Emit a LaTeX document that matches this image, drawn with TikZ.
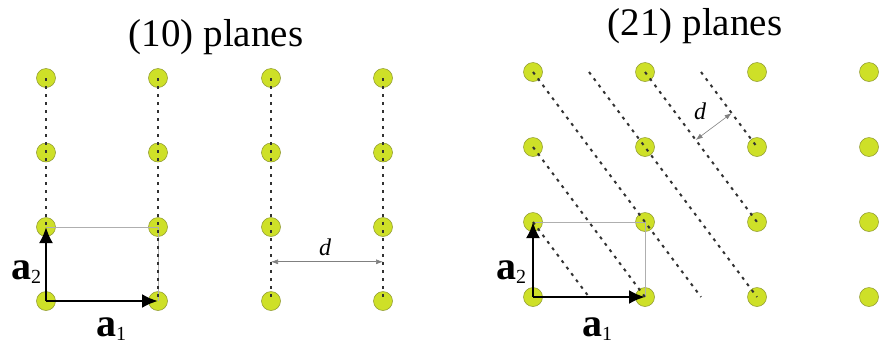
\documentclass[tikz,border=0pt]{standalone}
\usepackage{fontspec}
\setmainfont{Liberation Serif}
\usetikzlibrary{
  arrows.meta,
  calc
}
\definecolor{atomfill}{RGB}{206,224,40}
\definecolor{atomedge}{RGB}{140,150,45}
\definecolor{planegray}{RGB}{50,50,50}
\definecolor{cellgray}{RGB}{175,175,175}
\newcommand{\latvec}[1]{\textbf{a}\raisebox{-4pt}{\fontsize{20}{20}\selectfont #1}}
\tikzset{
  atom/.style={
    circle,
    draw=atomedge,
    line width=0.5pt,
    fill=atomfill,
    minimum size=19pt,
    inner sep=0pt
  },
  plane/.style={
    draw=planegray,
    line width=2pt,
    dash pattern=on 3pt off 5pt
  },
  cell/.style={
    draw=cellgray,
    line width=0.7pt
  },
  basis/.style={
    -{Latex[length=16pt,width=14pt]},
    line width=2.5pt,
    draw=black
  },
  spacing/.style={
    {Latex[length=7pt,width=5pt]}-{Latex[length=7pt,width=5pt]},
    line width=0.6pt,
    draw=gray
  },
  title/.style={
    font=\fontsize{39}{40}\selectfont,
    anchor=base
  },
  veclabel/.style={
    font=\fontsize{40}{40}\selectfont,
    anchor=base west,
    inner sep=0pt
  },
  dlabel/.style={
    font=\fontsize{24}{24}\selectfont\itshape,
    inner sep=0pt
  }
}

\begin{document}
\begin{tikzpicture}[x=1pt,y=-1pt]
\useasboundingbox (0,0) rectangle (879,349);

% Titles.
\node[title] (title10) at (216,46) {(10) planes};
\node[title] (title21) at (695,35) {(21) planes};

% Lattice points.
\foreach \c/\x in {1/46,2/158,3/271,4/383}
  \foreach \r/\y in {1/78,2/152.5,3/227,4/301}
    \node[atom] (p\c\r) at (\x,\y) {};
\foreach \c/\x in {1/533,2/645,3/757,4/869}
  \foreach \r/\y in {1/72,2/147,3/222,4/297}
    \node[atom] (q\c\r) at (\x,\y) {};

% Unit cells.
\draw[cell] (p13.center) -- (p23.center) -- (p24.center);
\draw[cell] (q13.center) -- (q23.center) -- (q24.center);

% (10) planes.
\draw[plane] (p11.center) -- (p13.center);
\draw[plane] (p21.center) -- (p24.center);
\draw[plane] (p31.center) -- (p34.center);
\draw[plane] (p41.center) -- (p44.center);

% (21) planes.
\coordinate (t12) at ($(q11)!0.5!(q21)$);
\coordinate (t23) at ($(q21)!0.5!(q31)$);
\coordinate (b12) at ($(q14)!0.5!(q24)$);
\coordinate (b23) at ($(q24)!0.5!(q34)$);
\draw[plane] (q11.center) -- (b23);
\draw[plane] (q12.center) -- (q24.center);
\draw[plane] (q13.center) -- (b12);
\draw[plane] (t12) -- (q34.center);
\draw[plane] (q21.center) -- (q33.center);
\draw[plane] (t23) -- (q32.center);

% Basis vectors.
\draw[basis] (p14.center) -- (p24.center);
\draw[basis] (p14.center) -- (p13.center);
\draw[basis] (q14.center) -- (q24.center);
\draw[basis] (q14.center) -- (q13.center);
\node[veclabel] (a1left) at (96,336) {\latvec{1}};
\node[veclabel] (a2left) at (11,279) {\latvec{2}};
\node[veclabel] (a1right) at (582,336) {\latvec{1}};
\node[veclabel] (a2right) at (496,279) {\latvec{2}};

% Interplanar spacing.
\coordinate (dstart10) at ($(p33)!0.47!(p34)$);
\coordinate (dend10) at ($(p43)!0.47!(p44)$);
\draw[spacing] (dstart10) -- (dend10);
\node[dlabel] (d10) at (325,247) {d};
\coordinate (dstart21) at ($(q21)!0.453!(q33)$);
\coordinate (dend21) at ($(t23)!(dstart21)!(q32)$);
\draw[spacing] (dstart21) -- (dend21);
\node[dlabel] (d21) at (700,111) {d};

\end{tikzpicture}
\end{document}
